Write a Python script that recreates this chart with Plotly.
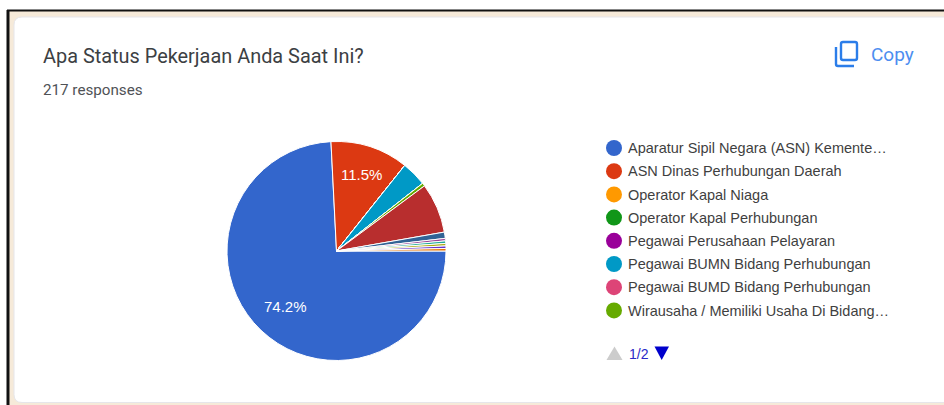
import plotly.graph_objects as go

title = "Apa Status Pekerjaan Anda Saat Ini?"
subtitle = "217 responses"
copy_label = "Copy"
pager_label = "1/2"
legend_labels = [
    "Aparatur Sipil Negara (ASN) Kemente…",
    "ASN Dinas Perhubungan Daerah",
    "Operator Kapal Niaga",
    "Operator Kapal Perhubungan",
    "Pegawai Perusahaan Pelayaran",
    "Pegawai BUMN Bidang Perhubungan",
    "Pegawai BUMD Bidang Perhubungan",
    "Wirausaha / Memiliki Usaha Di Bidang…",
]
other_labels = ["Lainnya A", "Lainnya B", "Lainnya C", "Lainnya D", "Lainnya E", "Lainnya F", "Lainnya G"]
values = [161, 25, 0, 0, 0, 8, 0, 1, 16, 2, 0.8, 0.8, 0.8, 0.8, 0.8]
big_slice_labels = ["74.2%", "11.5%"]
colors = ["#3366cc", "#dc3912", "#ff9900", "#109618", "#990099", "#0099c6", "#dd4477", "#66aa00",
          "#b82e2e", "#316395", "#994499", "#22aa99", "#aaaa11", "#6633cc", "#e67300"]

W, H = 944, 405
labels = (legend_labels + other_labels)[:len(values)]

fig = go.Figure()

fig.add_trace(go.Pie(
    labels=labels, values=values, textinfo="none",
    marker=dict(colors=colors, line=dict(color="white", width=1)),
    sort=False, direction="clockwise", rotation=90, showlegend=False, hoverinfo="skip",
    domain=dict(x=[227 / W, 446 / W], y=[(H - 360.5) / H, (H - 141.5) / H]),
))

row_y = [148 + 23.2 * i for i in range(8)]
fig.add_trace(go.Scatter(
    x=[614] * 8, y=row_y,
    mode="markers", marker=dict(size=16, color=colors[:8], line=dict(width=0)),
    showlegend=False, hoverinfo="skip", xaxis="x", yaxis="y",
))
fig.add_trace(go.Scatter(
    x=[628] * 8, y=[v + 1.5 for v in row_y],
    mode="text", text=legend_labels, textposition="middle right",
    textfont=dict(family="Liberation Sans", size=14.5, color="#3f3f3f"),
    showlegend=False, hoverinfo="skip",
))

shapes = [
    dict(type="rect", x0=7, y0=10, x1=W + 5, y1=H + 5, fillcolor="#f6ead9", line=dict(width=0), layer="below"),
    dict(type="line", x0=7, y0=10.5, x1=W, y1=10.5, line=dict(color="#111111", width=2), layer="below"),
    dict(type="line", x0=8, y0=10, x1=8, y1=H, line=dict(color="#111111", width=3), layer="below"),
    dict(type="path",
         path=f"M 14 25 Q 14 17 22 17 L {W+5} 17 L {W+5} 402.5 L 22 402.5 Q 14 402.5 14 394.5 Z",
         fillcolor="white", line=dict(color="#e6e6ea", width=1), layer="below"),
    dict(type="path", path="M 843 42 L 855 42 Q 857 42 857 44 L 857 58 Q 857 60 855 60 L 843 60 Q 841 60 841 58 L 841 44 Q 841 42 843 42 Z",
         line=dict(color="#2b7de9", width=2.4), fillcolor="rgba(0,0,0,0)"),
    dict(type="path", path="M 836 47 L 836 64 Q 836 66 838 66 L 854 66",
         line=dict(color="#2b7de9", width=2.4), fillcolor="rgba(0,0,0,0)"),
    dict(type="path", path="M 614.5 346.5 L 622.5 360 L 606.5 360 Z", fillcolor="#cccccc", line=dict(width=0)),
    dict(type="path", path="M 654.5 346.5 L 669 346.5 L 661.7 360 Z", fillcolor="#0000cc", line=dict(width=0)),
]

annotations = [
    dict(x=41, y=56, text=title, showarrow=False, xanchor="left", yanchor="middle",
         font=dict(family="Roboto", size=19.9, color="#3c4043"), xref="x", yref="y"),
    dict(x=41, y=89.5, text=subtitle, showarrow=False, xanchor="left", yanchor="middle",
         font=dict(family="Roboto", size=15.2, color="#4f5256"), xref="x", yref="y"),
    dict(x=869, y=54, text=copy_label, showarrow=False, xanchor="left", yanchor="middle",
         font=dict(family="Roboto", size=19, color="#4d8ef0"), xref="x", yref="y"),
    dict(x=627, y=353.5, text=pager_label, showarrow=False, xanchor="left", yanchor="middle",
         font=dict(family="Liberation Sans", size=14, color="#2a2ac8"), xref="x", yref="y"),
    dict(x=285, y=306, text=big_slice_labels[0], showarrow=False, xanchor="center", yanchor="middle",
         font=dict(family="Liberation Sans", size=15, color="white"), xref="x", yref="y"),
    dict(x=361, y=174, text=big_slice_labels[1], showarrow=False, xanchor="center", yanchor="middle",
         font=dict(family="Liberation Sans", size=15, color="white"), xref="x", yref="y"),
]

fig.update_layout(
    width=W, height=H, margin=dict(l=0, r=0, t=0, b=0),
    paper_bgcolor="white", plot_bgcolor="rgba(0,0,0,0)",
    xaxis=dict(range=[0, W], domain=[0, 1], visible=False, fixedrange=True),
    yaxis=dict(range=[H, 0], domain=[0, 1], visible=False, fixedrange=True),
    shapes=shapes, annotations=annotations, showlegend=False,
)

fig.write_html("out.html", config=dict(displayModeBar=False),
               post_script="document.body.style.margin='0';document.body.style.overflow='hidden';")
